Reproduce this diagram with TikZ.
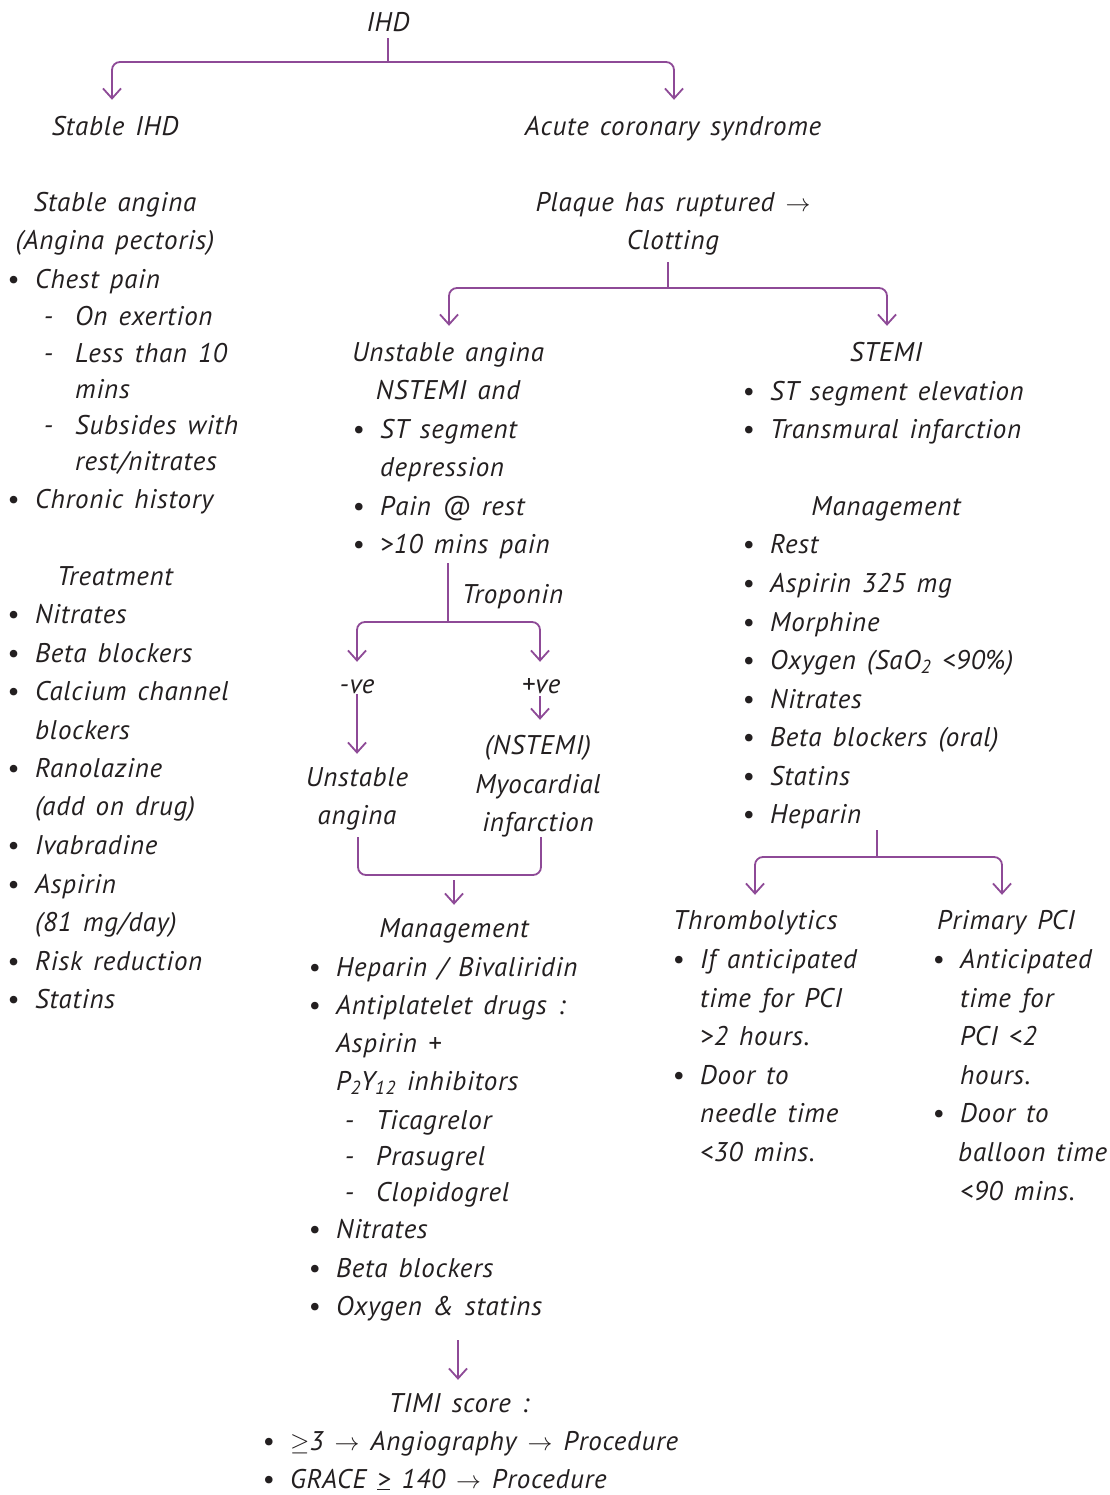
\documentclass[tikz,border=0pt]{standalone}
\usepackage{fontspec}
\setmainfont{PT Sans}[LetterSpace=2.7,WordSpace=1.4]
\usetikzlibrary{arrows.meta,calc}
\definecolor{pur}{HTML}{8E4A97}
\definecolor{ink}{HTML}{231F20}
\newcommand\bu{\llap{\textbullet\hspace{16pt}}}
\newcommand\da{\llap{-\hspace{22pt}}}
\newcommand\ar{{\fontsize{38}{38}\selectfont$\rightarrow$}}
\begin{document}
\begin{tikzpicture}[x=1pt,y=-1pt,
 txt/.style={inner sep=0pt,text height=20pt,text depth=6pt,font=\fontsize{27}{32}\selectfont\itshape,text=ink},
 L/.style={txt,anchor=base west},
 C/.style={txt,anchor=base},
 ln/.style={draw=pur,line width=1.8pt,rounded corners=8pt},
 arr/.style={ln,-{Straight Barb[length=10pt,width=18pt,line width=1.8pt]}}]
\fill[white] (0,0) rectangle (1109,1495);
\useasboundingbox (0,0) rectangle (1109,1495);
% top
\node[C] (ihd) at (388,32) {IHD};
\node[C] (sihd) at (115,136) {Stable IHD};
\node[C] (acs) at (673,136) {Acute coronary syndrome};
% left column
\node[C] (sa1) at (115,212) {Stable angina};
\node[C] (sa2) at (115,250) {(Angina pectoris)};
\node[L] (sa3) at (35,289) {\bu Chest pain};
\node[L] (sa4) at (75,326) {\da On exertion};
\node[L] (sa5) at (75,362) {\da Less than 10};
\node[L] (sa6) at (75,398) {mins};
\node[L] (sa7) at (75,434) {\da Subsides with};
\node[L] (sa8) at (75,470) {rest/nitrates};
\node[L] (sa9) at (35,508) {\bu Chronic history};
\node[C] (tr0) at (115,585) {Treatment};
\node[L] (tr1) at (35,623) {\bu Nitrates};
\node[L] (tr2) at (35,662) {\bu Beta blockers};
\node[L] (tr3) at (35,700) {\bu Calcium channel};
\node[L] (tr4) at (35,739) {blockers};
\node[L] (tr5) at (35,777) {\bu Ranolazine};
\node[L] (tr6) at (35,815) {(add on drug)};
\node[L] (tr7) at (35,854) {\bu Ivabradine};
\node[L] (tr8) at (35,893) {\bu Aspirin};
\node[L] (tr9) at (35,931) {(81 mg/day)};
\node[L] (tr10) at (35,970) {\bu Risk reduction};
\node[L] (tr11) at (35,1008) {\bu Statins};
% middle column
\node[C] (pl1) at (673,212) {Plaque has ruptured \ar};
\node[C] (pl2) at (673,250) {Clotting};
\node[C] (ua) at (448,361) {Unstable angina};
\node[C] (ns) at (448,399) {NSTEMI and};
\node[L] (u1) at (380,438) {\bu ST segment};
\node[L] (u2) at (380,476) {depression};
\node[L] (u3) at (380,515) {\bu Pain @ rest};
\node[L] (u4) at (380,553) {\bu >10 mins pain};
\node[L] (trop) at (462,603) {Troponin};
\node[C] (neg) at (357,693) {-ve};
\node[C] (pos) at (541,693) {+ve};
\node[C] (ub1) at (357,786) {Unstable};
\node[C] (ub2) at (357,824) {angina};
\node[C] (nm1) at (538,754) {(NSTEMI)};
\node[C] (nm2) at (538,793) {Myocardial};
\node[C] (nm3) at (538,831) {infarction};
\node[C] (mg) at (454,937) {Management};
\node[L] (m1) at (336,976) {\bu Heparin / Bivaliridin};
\node[L] (m2) at (336,1014) {\bu Antiplatelet drugs :};
\node[L] (m3) at (336,1052) {Aspirin +};
\node[L] (m4) at (336,1090) {P\textsubscript{2}Y\textsubscript{12} inhibitors};
\node[L] (m5) at (376,1129) {\da Ticagrelor};
\node[L] (m6) at (376,1165) {\da Prasugrel};
\node[L] (m7) at (376,1201) {\da Clopidogrel};
\node[L] (m8) at (336,1238) {\bu Nitrates};
\node[L] (m9) at (336,1277) {\bu Beta blockers};
\node[L] (m10) at (336,1315) {\bu Oxygen \& statins};
\node[C] (timi) at (459,1412) {TIMI score :};
\node[L] (t1) at (290,1450) {\bu $\geq$3 \ar{} Angiography \ar{} Procedure};
\node[L] (t2) at (290,1488) {\bu GRACE \underline{>} 140 \ar{} Procedure};
% right column
\node[C] (st) at (886,361) {STEMI};
\node[L] (s1) at (770,400) {\bu ST segment elevation};
\node[L] (s2) at (770,438) {\bu Transmural infarction};
\node[C] (smg) at (886,515) {Management};
\node[L] (r1) at (770,553) {\bu Rest};
\node[L] (r2) at (770,592) {\bu Aspirin 325 mg};
\node[L] (r3) at (770,631) {\bu Morphine};
\node[L] (r4) at (770,669) {\bu Oxygen (SaO\textsubscript{2} <90\%)};
\node[L] (r5) at (770,708) {\bu Nitrates};
\node[L] (r6) at (770,746) {\bu Beta blockers (oral)};
\node[L] (r7) at (770,785) {\bu Statins};
\node[L] (r8) at (770,823) {\bu Heparin};
\node[L] (thr) at (673,929) {Thrombolytics};
\node[L] (th1) at (700,968) {\bu If anticipated};
\node[L] (th2) at (700,1007) {time for PCI};
\node[L] (th3) at (700,1045) {>2 hours.};
\node[L] (th4) at (700,1084) {\bu Door to};
\node[L] (th5) at (700,1122) {needle time};
\node[L] (th6) at (700,1161) {<30 mins.};
\node[L] (pp) at (937,929) {Primary PCI};
\node[L] (pp1) at (960,968) {\bu Anticipated};
\node[L] (pp2) at (960,1007) {time for};
\node[L] (pp3) at (960,1045) {PCI <2};
\node[L] (pp4) at (960,1084) {hours.};
\node[L] (pp5) at (960,1122) {\bu Door to};
\node[L] (pp6) at (958,1161) {balloon time};
\node[L] (pp7) at (960,1200) {<90 mins.};
% connectors
\coordinate (j1) at (388,62);
\draw[ln] (ihd.south) -- (j1);
\draw[arr] (j1) -| ($(sihd.north)+(-3,-16)$);
\draw[arr] (j1) -| ($(acs.north)+(1,-16)$);
\coordinate (j2) at (668,288);
\draw[ln] ($(pl2.south -| j2)+(0,6)$) -- (j2);
\draw[arr] (j2) -| ($(ua.north)+(1,-15)$);
\draw[arr] (j2) -| ($(st.north)+(1,-15)$);
\coordinate (j3) at (448,622);
\draw[ln] ($(u4.south -| j3)+(0,4)$) -- (j3);
\draw[arr] (j3) -| ($(neg.north)+(0,-11)$);
\draw[arr] (j3) -| ($(pos.north)+(-1,-11)$);
\draw[arr] ($(neg.south)+(0,-5)$) -- ($(ub1.north)+(0,-12)$);
\draw[arr] ($(pos.south)+(-1,-3)$) -- ($(nm1.north)+(2,-14)$);
\coordinate (j4) at (454,875);
\draw[ln] ($(ub2.south)+(1,7)$) |- (j4) -| ($(nm3.south)+(3,0)$);
\draw[arr] ($(j4)+(0,5)$) -- ($(mg.north)+(0,-12)$);
\draw[arr] ($(m10.south -| timi.north)+(-1,19)$) -- ($(timi.north)+(-1,-12)$);
\coordinate (j5) at (877,857);
\draw[ln] ($(r8.south -| j5)+(0,1)$) -- (j5);
\draw[arr] (j5) -| ($(thr.north west)+(82,-14)$);
\draw[arr] (j5) -| ($(pp.north west)+(65,-14)$);
\end{tikzpicture}
\end{document}
